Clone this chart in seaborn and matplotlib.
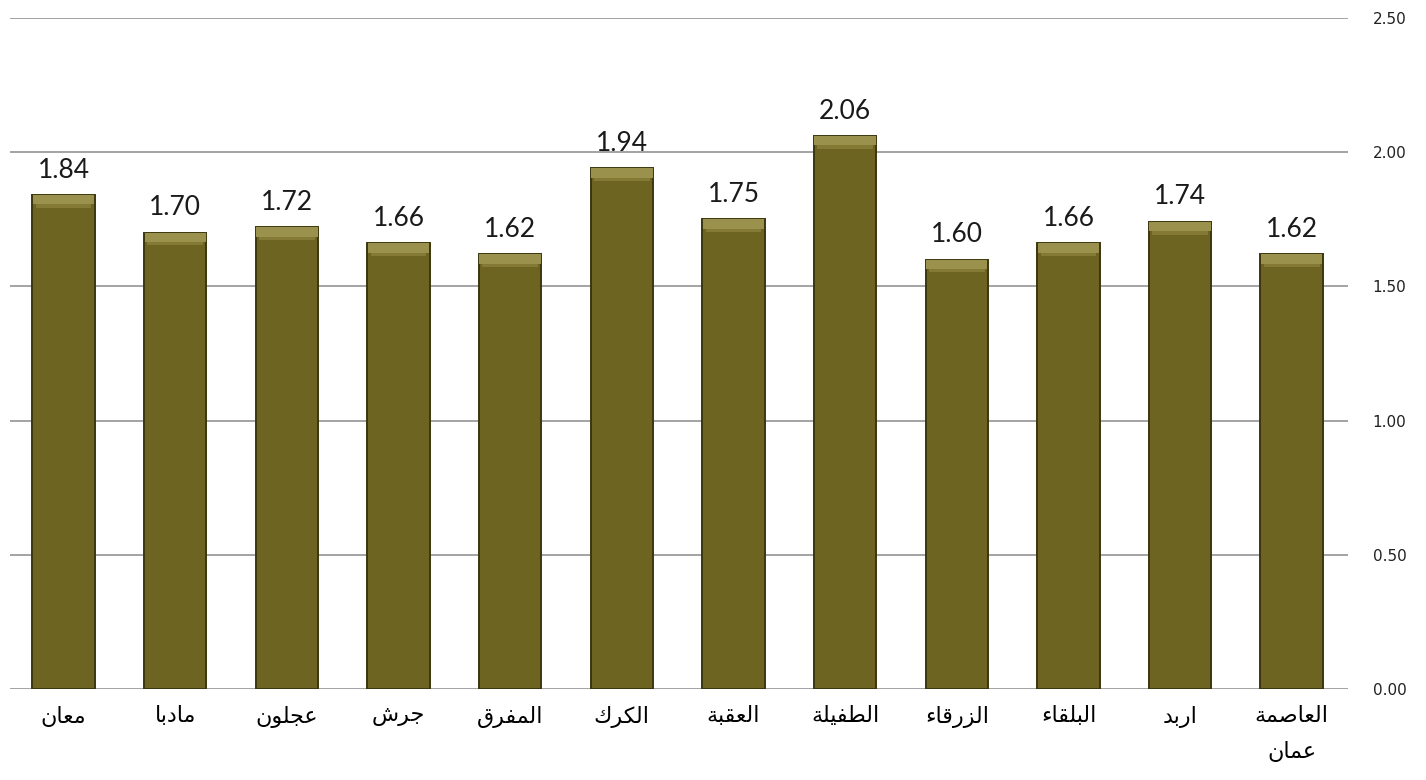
#___________________________________________________________________________________________________________________________________________
# Required Modules
import pandas as pd
import numpy as np
import matplotlib
matplotlib.use("Agg")
import matplotlib.pyplot as plt
import seaborn as sns
#___________________________________________________________________________________________________________________________________________
# Data (left to right)
governorates = ["معان", "مادبا", "عجلون", "جرش", "المفرق", "الكرك",
                "العقبة", "الطفيلة", "الزرقاء", "البلقاء", "اربد", "العاصمة\nعمان"]
values = [1.84, 1.70, 1.72, 1.66, 1.62, 1.94, 1.75, 2.06, 1.60, 1.66, 1.74, 1.62]
y_ticks = [0.00, 0.50, 1.00, 1.50, 2.00, 2.50]
#___________________________________________________________________________________________________________________________________________
# matplotlib 3.10 has no Arabic shaping, so pick the presentation forms by hand
# (isolated, final, initial, medial) ; None = letter only joins to the right
forms = {
    "ا": ("\uFE8D", "\uFE8E", None, None),
    "ب": ("\uFE8F", "\uFE90", "\uFE91", "\uFE92"),
    "ة": ("\uFE93", "\uFE94", None, None),
    "ج": ("\uFE9D", "\uFE9E", "\uFE9F", "\uFEA0"),
    "د": ("\uFEA9", "\uFEAA", None, None),
    "ر": ("\uFEAD", "\uFEAE", None, None),
    "ز": ("\uFEAF", "\uFEB0", None, None),
    "ش": ("\uFEB5", "\uFEB6", "\uFEB7", "\uFEB8"),
    "ص": ("\uFEB9", "\uFEBA", "\uFEBB", "\uFEBC"),
    "ط": ("\uFEC1", "\uFEC2", "\uFEC3", "\uFEC4"),
    "ع": ("\uFEC9", "\uFECA", "\uFECB", "\uFECC"),
    "ف": ("\uFED1", "\uFED2", "\uFED3", "\uFED4"),
    "ق": ("\uFED5", "\uFED6", "\uFED7", "\uFED8"),
    "ك": ("\uFED9", "\uFEDA", "\uFEDB", "\uFEDC"),
    "ل": ("\uFEDD", "\uFEDE", "\uFEDF", "\uFEE0"),
    "م": ("\uFEE1", "\uFEE2", "\uFEE3", "\uFEE4"),
    "ن": ("\uFEE5", "\uFEE6", "\uFEE7", "\uFEE8"),
    "و": ("\uFEED", "\uFEEE", None, None),
    "ي": ("\uFEF1", "\uFEF2", "\uFEF3", "\uFEF4"),
    "ء": ("\uFE80", None, None, None),
}

def dual(c):
    return c in forms and forms[c][2] is not None

def joins(c):
    return c in forms and forms[c][1] is not None

def shape_line(word):
    out = []
    for i, c in enumerate(word):
        if c not in forms:
            out.append(c)
            continue
        prev_j = i > 0 and dual(word[i - 1]) and joins(c)
        next_j = i < len(word) - 1 and dual(c) and joins(word[i + 1])
        if prev_j and next_j:
            out.append(forms[c][3])
        elif prev_j:
            out.append(forms[c][1])
        elif next_j:
            out.append(forms[c][2])
        else:
            out.append(forms[c][0])
    return "".join(out[::-1])

def shape(text):
    return "\n".join(shape_line(line) for line in text.split("\n"))

df = pd.DataFrame({"gov": [shape(g) for g in governorates], "value": values})
#___________________________________________________________________________________________________________________________________________
# Plotting
sns.set_style("white")
plt.rcParams["font.family"] = ["DejaVu Sans"]

fig = plt.figure(figsize=(14.26, 7.8), dpi=100)
ax = fig.add_axes([0.007, 0.1167, 0.938, 0.8603])

bar_color = "#6d6422"
sns.barplot(data=df, x="gov", y="value", color=bar_color, saturation=1,
            width=0.56, edgecolor="#3b360f", linewidth=1.4, zorder=3, ax=ax)

# lighter bevel strip at the top of each bar
pos = np.arange(len(values))
vals = np.array(values)
ax.bar(pos, 0.035, bottom=vals - 0.035, width=0.55, color="#9a914c",
       edgecolor="none", zorder=4)
ax.bar(pos, 0.012, bottom=vals - 0.047, width=0.50, color="#847a36",
       edgecolor="none", zorder=4)

# value labels above the bars
for x, v in zip(pos, values):
    ax.annotate(f"{v:.2f}", (x, v), xytext=(0, 9), textcoords="offset points",
                ha="center", va="bottom", fontsize=19, family="Lato", color="#1a1a1a")

ax.set_ylim(0, 2.5)
ax.set_xlim(-0.48, len(values) - 0.5)
ax.set_yticks(y_ticks)
ax.set_yticklabels([f"{t:.2f}" for t in y_ticks], fontsize=11, color="#222222")
ax.set_xticks(pos)
ax.set_xticklabels(df["gov"], fontsize=16, linespacing=1.9, color="#000000")
ax.yaxis.tick_right()
ax.tick_params(axis="y", length=0, pad=18)
ax.tick_params(axis="x", length=0, pad=12)
ax.grid(axis="y", color="#8a8a8a", linewidth=1.1, zorder=0)
ax.set_axisbelow(True)
for s in ax.spines.values():
    s.set_visible(False)
ax.set_xlabel("")
ax.set_ylabel("")

plt.savefig("out.png", dpi=100)
